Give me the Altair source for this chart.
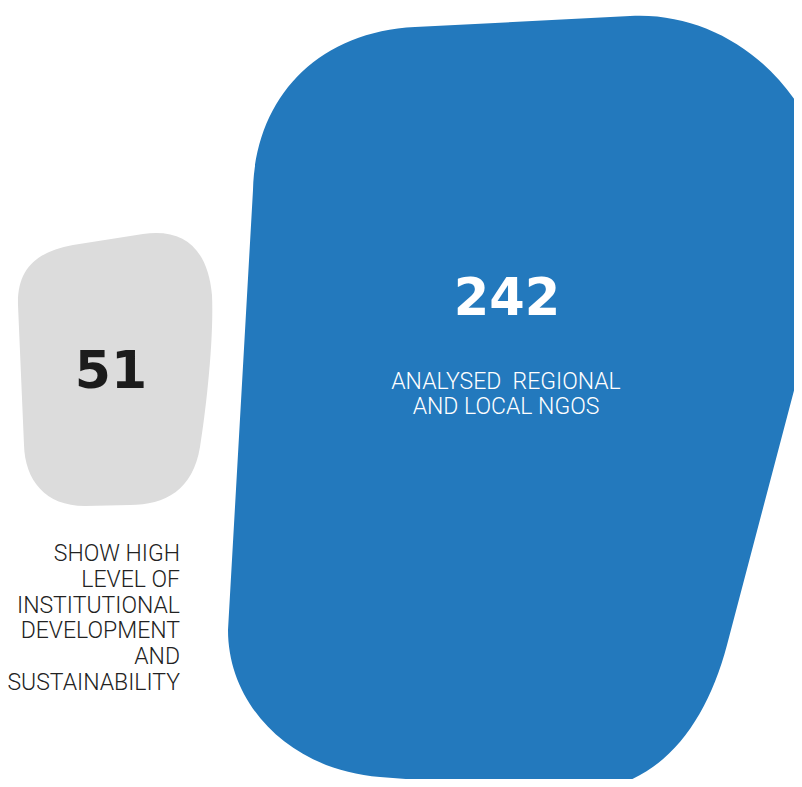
import re
import altair as alt
import pandas as pd

# ---- data ----
keys = ["institutional", "analysed"]
values = [51, 242]
numbers = ["51", "242"]
labels = [
    "SHOW HIGH\nLEVEL OF\nINSTITUTIONAL\nDEVELOPMENT\nAND\nSUSTAINABILITY",
    "ANALYSED\u00a0 REGIONAL\nAND LOCAL NGOS",
]

df = pd.DataFrame({"key": keys, "value": values, "number": numbers, "label": labels})

BLUE = "#2379bd"
GRAY = "#dcdcdc"
DARK = "#1c1c1c"


def norm(path, cx, cy, h):
    toks = re.findall(r"[MLCZ]|-?\d+\.?\d*", path)
    out, i = [], 0
    for t in toks:
        if t in "MLCZ":
            out.append(t)
            i = 0
        else:
            v = float(t)
            out.append(f"{((v - cx) if i % 2 == 0 else (v - cy)) / h:.4f}")
            i += 1
    return " ".join(out)


# blob outlines (shape styles), normalised around each symbol's centre
blue_shape = norm(
    "M 415 27 L 630 16 C 735 10 830 100 828 210 C 826 270 815 310 802 360 "
    "L 727 645 C 703 735 650 798 560 791 L 380 777 C 290 770 228 705 228 630 "
    "L 253 190 C 255 100 315 32 415 27 Z",
    507, 400, 400,
)
gray_shape = norm(
    "M 73 245 L 143 234 C 185 228 208 250 212 295 C 214 340 206 410 200 447 "
    "C 193 490 165 505 130 505 L 85 506 C 45 506 25 480 24 445 L 18 305 "
    "C 17 270 35 252 73 245 Z",
    111, 370, 150,
)

xs = alt.X("key:N", scale=alt.Scale(type="point", domain=keys, range=[103, 499], padding=0), axis=None)
ys = alt.Y("key:N", scale=alt.Scale(type="point", domain=keys, range=[362, 392], padding=0), axis=None)
sz = alt.Size("value:Q", scale=alt.Scale(domain=[51, 242], range=[90000, 640000]), legend=None)

base = alt.Chart(df)

gray_blob = base.transform_filter(alt.datum.key == keys[0]).mark_point(
    shape=gray_shape, filled=True, fill=GRAY, opacity=1, strokeWidth=0
).encode(x=xs, y=ys, size=sz)

blue_blob = base.transform_filter(alt.datum.key == keys[1]).mark_point(
    shape=blue_shape, filled=True, fill=BLUE, opacity=1, strokeWidth=0
).encode(x=xs, y=ys, size=sz)

num_gray = base.transform_filter(alt.datum.key == keys[0]).mark_text(
    font="DejaVu Sans", fontWeight="bold", fontSize=52, color=DARK,
    align="center", baseline="alphabetic", dy=18, dx=0
).encode(x=xs, y=ys, text="number:N")

num_blue = base.transform_filter(alt.datum.key == keys[1]).mark_text(
    font="DejaVu Sans", fontWeight="bold", fontSize=51, color="white",
    align="center", baseline="alphabetic", dy=-85, dx=0
).encode(x=xs, y=ys, text="number:N")

lab_gray = base.transform_filter(alt.datum.key == keys[0]).mark_text(
    font="Roboto", fontWeight=300, fontSize=23, color="#222222",
    align="right", baseline="alphabetic", dx=69, dy=191, lineBreak="\n", lineHeight=25.8
).encode(x=xs, y=ys, text="label:N")

lab_blue = base.transform_filter(alt.datum.key == keys[1]).mark_text(
    font="Roboto", fontWeight=300, fontSize=23, color="white",
    align="center", baseline="alphabetic", dx=-1, dy=-11, lineBreak="\n", lineHeight=25
).encode(x=xs, y=ys, text="label:N")

chart = alt.layer(gray_blob, blue_blob, num_gray, num_blue, lab_gray, lab_blue).properties(
    width=786, height=771, padding=0, autosize=alt.AutoSizeParams(type="none"),
    background="white",
).configure_view(stroke=None)

chart.save("out.html", embed_options={"renderer": "svg", "actions": False})
